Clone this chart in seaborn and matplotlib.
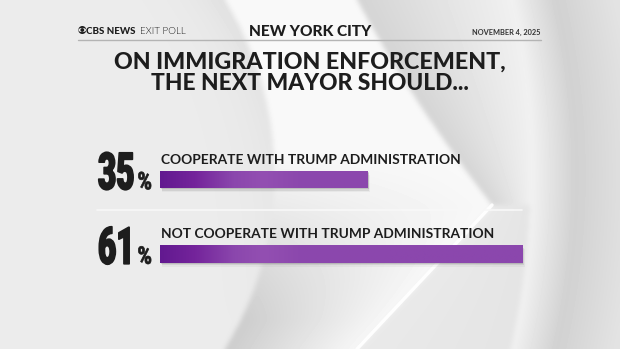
import numpy as np
import pandas as pd
import matplotlib
matplotlib.use("Agg")
import matplotlib.pyplot as plt
import matplotlib.patches as mpatches
import matplotlib.transforms as mtransforms
from matplotlib import font_manager
from matplotlib.colors import LinearSegmentedColormap
from matplotlib.patheffects import AbstractPathEffect
import seaborn as sns

# Survey answers and shares
answers = ["COOPERATE WITH TRUMP ADMINISTRATION", "NOT COOPERATE WITH TRUMP ADMINISTRATION"]
shares = [35, 61]

header_brand = "CBS NEWS"
header_sub = "EXIT POLL"
header_mid = "NEW YORK CITY"
header_right = "NOVEMBER 4, 2025"
title_lines = ["ON IMMIGRATION ENFORCEMENT,", "THE NEXT MAYOR SHOULD..."]

sns.set_theme(style="white")
plt.rcParams["font.family"] = ["Lato", "DejaVu Sans"]


# ---- font helpers ----
def _weight(f):
    w = f.weight
    if isinstance(w, str):
        w = font_manager.weight_dict.get(w, 400)
    return int(w)


def pick_font(families, min_w=0, max_w=1000):
    for fam in families:
        cands = []
        for f in font_manager.fontManager.ttflist:
            if f.name != fam or f.style != "normal":
                continue
            tag = (f.fname + " " + str(f.stretch)).lower()
            if "condensed" in tag or "narrow" in tag:
                continue
            w = _weight(f)
            if min_w <= w <= max_w:
                cands.append((w, f))
        if cands:
            cands.sort(key=lambda t: t[0], reverse=True)
            return font_manager.FontProperties(fname=cands[0][1].fname)
    return font_manager.FontProperties(family="DejaVu Sans", weight="bold")


heavy = pick_font(["Lato", "Inter", "Roboto", "Open Sans", "Noto Sans"], min_w=800)
boldf = pick_font(["Lato", "Inter", "Roboto", "Open Sans", "Noto Sans"], min_w=600, max_w=750)
lightf = pick_font(["Lato", "Inter", "Roboto", "Open Sans", "Noto Sans"], min_w=250, max_w=350)
numf = pick_font(["Roboto", "Inter", "Lato", "Open Sans"], min_w=700)


class HSqueeze(AbstractPathEffect):
    """Narrow the glyphs horizontally around a fixed display x, with a thin outline to keep them heavy."""

    def __init__(self, sx, x0, stroke=0.0):
        super().__init__()
        self.sx, self.x0, self.stroke = sx, x0, stroke

    def draw_path(self, renderer, gc, tpath, affine, rgbFace=None):
        t = affine + mtransforms.Affine2D().translate(-self.x0, 0).scale(self.sx, 1).translate(self.x0, 0)
        if self.stroke > 0:
            gc0 = renderer.new_gc()
            gc0.copy_properties(gc)
            gc0.set_linewidth(self.stroke)
            gc0.set_foreground(rgbFace if rgbFace is not None else gc.get_rgb())
            gc0.set_joinstyle("round")
            renderer.draw_path(gc0, tpath, t, rgbFace)
            gc0.restore()
        else:
            renderer.draw_path(gc, tpath, t, rgbFace)


W, H = 620, 349
fig = plt.figure(figsize=(W / 100, H / 100), dpi=100)
renderer = fig.canvas.get_renderer()

# ---- backdrop: grey field with the sweeping eye shapes ----
bg = fig.add_axes([0, 0, 1, 1], zorder=0)
bg.set_xlim(0, W)
bg.set_ylim(H, 0)
bg.axis("off")

yy, xx = np.mgrid[0:H, 0:W].astype(float)
x_l = -57 + np.sqrt(np.clip(331 ** 2 - (yy - 174) ** 2, 0, None))
x_up = 357 + 0.5374 * yy + 0.000591 * yy ** 2
x_dn = 492 - 0.9375 * (yy - 205)
x_r = np.where(yy < 205, x_up, x_dn)
x_o = -245 + np.sqrt(775 ** 2 - (yy - 175) ** 2)

img = np.full((H, W), 0.925)
# left field, a touch darker next to the crescent
left = xx < x_l
img[left] = (0.925 - 0.05 * np.exp(-(x_l - xx) / 30) * (1 - yy / H))[left]
# crescent: white at top, shaded grey toward the bottom-left
band = (xx >= x_l) & (xx < x_r)
f = np.clip((xx - x_l) / np.maximum(x_r - x_l, 1), 0, 1)
wgt = np.clip((yy - 150) / 170, 0, 1)
v_band = (1 - wgt) * 0.975 + wgt * (0.80 + 0.17 * f)
img[band] = v_band[band]
# shaded wedge above the point
wedge = (xx >= x_r) & (xx < x_o) & (yy < 205)
g = np.clip((xx - x_r) / np.maximum(x_o - x_r, 1), 0, 1)
img[wedge] = (0.83 + 0.11 * g)[wedge]
# lower right zone
lowr = (xx >= x_r) & (xx < x_o) & (yy >= 205)
img[lowr] = (0.915 - 0.02 * g)[lowr]
# outer field
outer = xx >= x_o
d = xx - x_o
img[outer] = (0.95 - 0.13 * np.clip(d / 45, 0, 1) + 0.07 * np.clip((d - 45) / 60, 0, 1))[outer]


def blur(a, s):
    r = int(3 * s)
    k = np.exp(-0.5 * (np.arange(-r, r + 1) / s) ** 2)
    k /= k.sum()
    p = np.pad(a, r, mode="edge")
    p = np.apply_along_axis(lambda v: np.convolve(v, k, mode="valid"), 1, p)
    p = np.apply_along_axis(lambda v: np.convolve(v, k, mode="valid"), 0, p)
    return p


img = blur(img, 2.5)
bg.imshow(img, extent=[0, W, H, 0], cmap="gray", vmin=0, vmax=1, aspect="auto", zorder=0,
          interpolation="bilinear")
# white highlight along the lower edge of the point
ys = np.linspace(205, H, 60)
bg.plot(492 - 0.9375 * (ys - 205), ys, color="white", lw=2.4, alpha=0.95, zorder=1,
        solid_capstyle="round")

# header rule and row divider
bg.plot([78, 541], [40, 40], color="#b4b4b4", lw=1.0, zorder=3)
bg.plot([97, 522], [209.5, 209.5], color="#f8f8f8", lw=1.2, zorder=3)

dark = "#1d1d1d"


def fit_text(x, y, s, fp, width, ha, **kw):
    txt = bg.text(x, y, s, fontproperties=fp, ha=ha, color=kw.pop("color", dark), zorder=5, **kw)
    txt.set_fontsize(10)
    w = txt.get_window_extent(renderer).width
    txt.set_fontsize(10 * width / w)
    return txt


# CBS eye mark
eye_x, eye_y = 82.3, 30
bg.add_patch(mpatches.Circle((eye_x, eye_y), 4.0, facecolor=dark, edgecolor="none", zorder=4))
bg.add_patch(mpatches.Ellipse((eye_x, eye_y), 7.6, 4.2, facecolor="#efefef", edgecolor="none", zorder=4))
bg.add_patch(mpatches.Circle((eye_x, eye_y), 1.9, facecolor=dark, edgecolor="none", zorder=4))
fit_text(86, 30.5, header_brand, heavy, 49, "left", va="center_baseline")
fit_text(139.5, 30.5, header_sub, lightf, 45.5, "left", va="center_baseline")
fit_text(310, 30, header_mid, heavy, 122, "center", va="center_baseline")
fit_text(541, 31.5, header_right, boldf, 69, "right", va="center_baseline", color="#333333")
fit_text(310, 60, title_lines[0], heavy, 392, "center", va="center_baseline")
fit_text(310, 81, title_lines[1], heavy, 316, "center", va="center_baseline")

# ---- bars ----
left_px, right_px = 160, W
top_px, bot_px = 142.25, 291.25
px_per_pct = 5.94
ax = fig.add_axes([left_px / W, (H - bot_px) / H, (right_px - left_px) / W, (bot_px - top_px) / H], zorder=2)
ax.patch.set_alpha(0)

df = pd.DataFrame({"answer": answers, "share": shares})
sns.barplot(data=df, x="share", y="answer", orient="h", width=0.235, color="#8b47ad",
            ax=ax, saturation=1, edgecolor="none")
xmax = (right_px - left_px) / px_per_pct
ax.set_xlim(0, xmax)
ax.set_ylim(1.5, -0.5)
ax.axis("off")

cmap = LinearSegmentedColormap.from_list(
    "bar", [(0, "#621990"), (0.15, "#74249b"), (0.32, "#8b47ad"), (0.45, "#934fb2"), (0.6, "#8c48ad"), (1, "#8b47ad")])
for p in list(ax.patches):
    x0, y0 = p.get_x(), p.get_y()
    w, h = p.get_width(), p.get_height()
    # soft drop shadow
    for k, a in ((1.0, 0.18), (2.5, 0.12), (4.0, 0.06)):
        sh = mpatches.Rectangle((x0, y0), w, h, facecolor="#555555", alpha=a, edgecolor="none",
                                transform=ax.transData + mtransforms.ScaledTranslation(k * 0.6 / 100, -k / 100, fig.dpi_scale_trans),
                                zorder=1)
        ax.add_patch(sh)
    pos = np.linspace(0, w * px_per_pct, 400)
    vals = np.clip(pos / 230.0, 0, 1)
    im = ax.imshow(vals[np.newaxis, :], extent=[x0, x0 + w, y0 + h, y0], cmap=cmap, vmin=0, vmax=1,
                   aspect="auto", zorder=3, interpolation="bilinear")
    im.set_clip_path(p)
    p.set_zorder(2)
ax.set_xlim(0, xmax)
ax.set_ylim(1.5, -0.5)

# answer labels above the bars
label_targets = [298, 332]
for i, a in enumerate(answers):
    lab = ax.text(0.15, i - 0.21, a, fontproperties=boldf, color=dark, ha="left", va="baseline", zorder=5)
    lab.set_fontsize(10)
    lw = lab.get_window_extent(renderer).width
    lab.set_fontsize(10 * label_targets[i] / lw)

# big condensed percentages, left-aligned at a common margin
num_left = 98
num_size, pct_size = 37, 17.5
probe = bg.text(0, 0, str(shares[0]), fontproperties=numf, fontsize=num_size)
sx_num = 36.5 / probe.get_window_extent(renderer).width
probe.set_text("%")
probe.set_fontsize(pct_size)
sx_pct = 14.5 / probe.get_window_extent(renderer).width
probe.remove()

for i, s in enumerate(shares):
    # baseline tied to the bar's centre line
    disp = ax.transData.transform((0, i))
    _, yc = bg.transData.inverted().transform(disp)
    base_y = yc + 9.8
    num = bg.text(0, base_y, str(s), fontproperties=numf, fontsize=num_size, color=dark,
                  ha="right", va="baseline", zorder=5)
    nw = num.get_window_extent(renderer).width * sx_num
    num_right = num_left + nw
    num.set_x(num_right)
    num.set_path_effects([HSqueeze(sx_num, bg.transData.transform((num_right, 0))[0], stroke=1.2)])
    pct_left = num_right + 3.0
    pct = bg.text(pct_left, base_y, "%", fontproperties=numf, fontsize=pct_size, color=dark,
                  ha="left", va="baseline", zorder=5)
    pct.set_path_effects([HSqueeze(sx_pct, bg.transData.transform((pct_left, 0))[0], stroke=0.5)])

fig.savefig("out.png", dpi=100)
